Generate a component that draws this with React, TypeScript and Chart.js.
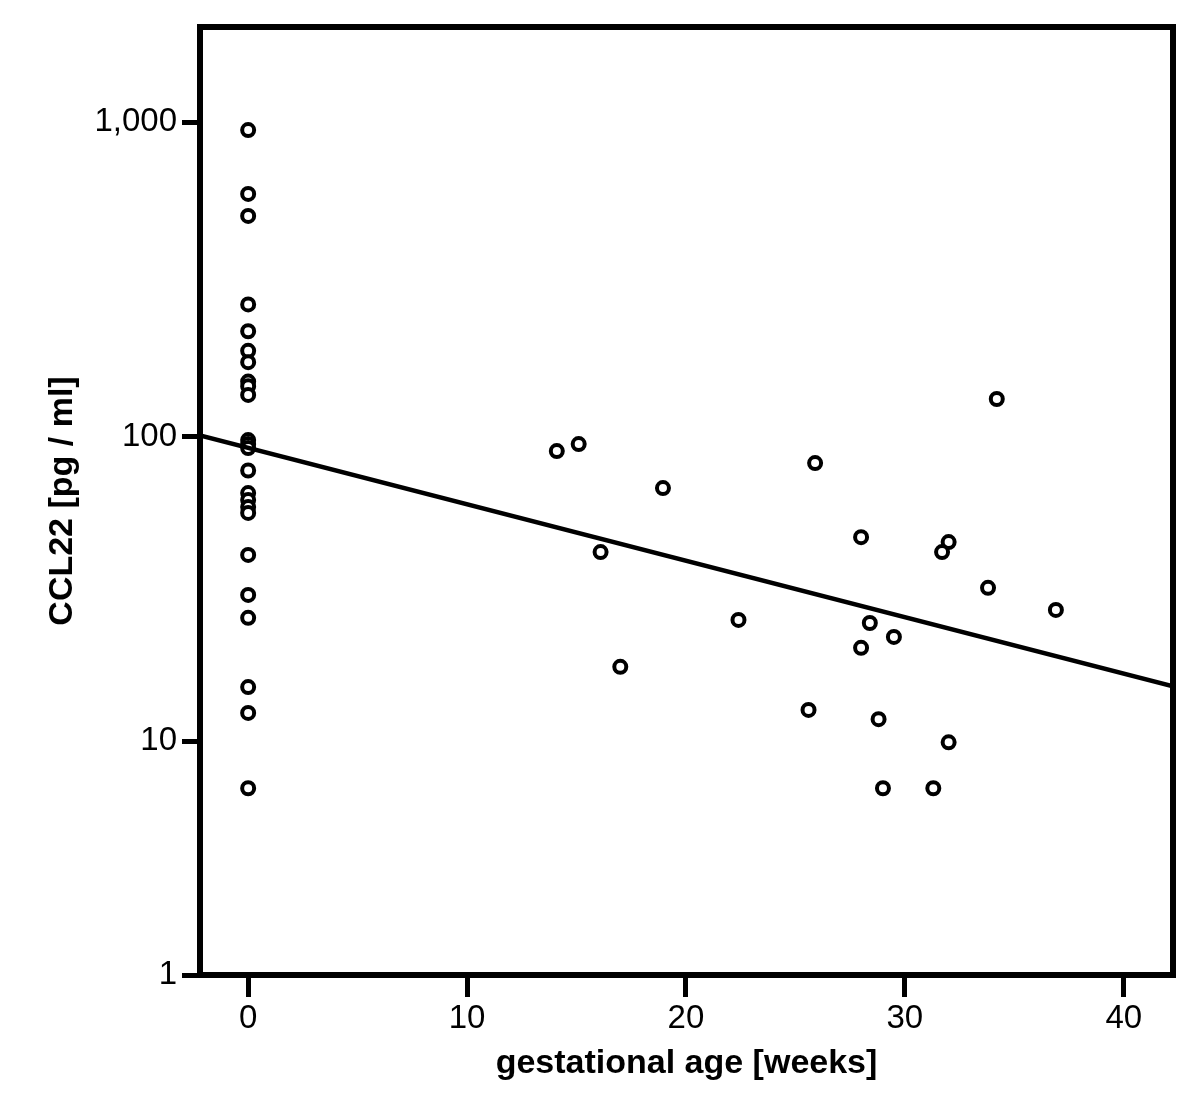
import React, { useEffect, useRef } from "react";
import { Chart, registerables, Scale } from "chart.js";

// ---- data ----
const GEST_WEEKS = [
  0, 0, 0, 0, 0, 0, 0, 0, 0, 0, 0, 0, 0, 0, 0, 0, 0, 0, 0, 0, 0, 0, 0, 0,
  14.1, 15.1, 18.95, 16.1, 22.4, 17.0, 25.9, 34.2, 28.0, 32.0, 31.7, 33.8,
  36.9, 28.4, 29.5, 28.0, 25.6, 28.8, 32.0, 29.0, 31.3,
];
const CCL22 = [
  943, 592, 504, 264, 217, 188, 173, 150, 145, 136, 97.6, 94.8, 92, 78, 66,
  62.7, 59.5, 57, 41.7, 30.9, 26, 15.3, 12.5, 6.8,
  90, 94.8, 68.5, 42.6, 25.6, 17.9, 82.4, 132, 47.6, 45.9, 42.6, 32.6,
  27.6, 25, 22.5, 20.7, 12.8, 11.9, 9.9, 6.8, 6.8,
];
const FIT_X = [-2.2, 42.25];
const FIT_Y = [101, 15.4];

const X_TICKS = [0, 10, 20, 30, 40];
const Y_TICKS = [1, 10, 100, 1000];
const X_MIN = -2.2;
const X_MAX = 42.25;
const Y_MIN = 1;
const Y_MAX = 2000;

const X_TITLE = "gestational age [weeks]";
const Y_TITLE = "CCL22 [pg / ml]";

// SPSS-style "safe log" scale: position ~ log10(v + 1)
const sl = (v: number) => Math.log10(v + 1);
const slInv = (t: number) => Math.pow(10, t) - 1;

class SafeLogScale extends Scale {
  static id = "safelog";
  static defaults = {};
  _start = 0;
  _range = 1;
  determineDataLimits() {
    const { min, max } = (this as any).getMinMax(true);
    const o: any = this.options;
    (this as any).min = o.min ?? min;
    (this as any).max = o.max ?? max;
  }
  buildTicks() {
    return Y_TICKS.map((v) => ({ value: v }));
  }
  getLabelForValue(v: number) {
    return Number(v).toLocaleString("en-US");
  }
  configure() {
    super.configure();
    this._start = sl((this as any).min);
    this._range = sl((this as any).max) - sl((this as any).min);
  }
  getPixelForValue(v: number) {
    return this.getPixelForDecimal((sl(v) - this._start) / this._range);
  }
  getValueForPixel(p: number) {
    return slInv(this._start + this.getDecimalForPixel(p) * this._range);
  }
}

Chart.register(...registerables, SafeLogScale as any);

const FONT = "'Liberation Sans', Arial, Helvetica, sans-serif";

const framePlugin = {
  id: "frame",
  afterDraw(chart: any) {
    const { ctx, chartArea } = chart;
    ctx.save();
    ctx.strokeStyle = "#000";
    ctx.lineWidth = 6;
    ctx.strokeRect(
      chartArea.left,
      chartArea.top,
      chartArea.right - chartArea.left,
      chartArea.bottom - chartArea.top
    );
    ctx.restore();
  },
};

export default function App() {
  const ref = useRef<HTMLCanvasElement | null>(null);

  useEffect(() => {
    document.body.style.margin = "0";
    if (!ref.current) return;
    const points = GEST_WEEKS.map((x, i) => ({ x, y: CCL22[i] }));
    const fit = FIT_X.map((x, i) => ({ x, y: FIT_Y[i] }));
    const chart = new Chart(ref.current, {
      type: "scatter",
      data: {
        datasets: [
          {
            type: "line",
            data: fit,
            borderColor: "#000",
            borderWidth: 4.5,
            pointRadius: 0,
            fill: false,
          } as any,
          {
            data: points,
            pointStyle: "circle",
            radius: 6,
            pointRadius: 6,
            borderWidth: 4,
            pointBorderWidth: 4,
            borderColor: "#000",
            backgroundColor: "#fff",
            pointBackgroundColor: "#fff",
            pointBorderColor: "#000",
          } as any,
        ],
      },
      options: {
        animation: false,
        responsive: false,
        events: [],
        layout: { padding: { top: 27, right: 27, left: 0, bottom: 0 } },
        plugins: {
          legend: { display: false },
          tooltip: { enabled: false },
        },
        scales: {
          x: {
            type: "linear",
            min: X_MIN,
            max: X_MAX,
            afterBuildTicks: (s: any) => {
              s.ticks = X_TICKS.map((v) => ({ value: v }));
            },
            afterFit: (s: any) => {
              s.height = 136;
            },
            border: { display: false },
            grid: {
              display: true,
              drawOnChartArea: false,
              drawTicks: true,
              tickLength: 22,
              tickWidth: 5,
              tickColor: "#000",
            },
            ticks: {
              color: "#000",
              font: { family: FONT, size: 33 },
              padding: 2,
              maxRotation: 0,
            },
            title: {
              display: true,
              text: X_TITLE,
              color: "#000",
              font: { family: FONT, size: 34, weight: "bold" },
              padding: { top: 0, bottom: 27 },
            },
          },
          y: {
            type: "safelog" as any,
            min: Y_MIN,
            max: Y_MAX,
            afterFit: (s: any) => {
              s.width = 200;
            },
            border: { display: false },
            grid: {
              display: true,
              drawOnChartArea: false,
              drawTicks: true,
              tickLength: 18,
              tickWidth: 5,
              tickColor: "#000",
            },
            ticks: {
              color: "#000",
              font: { family: FONT, size: 33 },
              padding: 5,
              callback: (v: any) => Number(v).toLocaleString("en-US"),
            },
            title: {
              display: true,
              text: Y_TITLE,
              color: "#000",
              font: { family: FONT, size: 34, weight: "bold" },
              padding: { top: 42, bottom: 0 },
            },
          } as any,
        },
      },
      plugins: [framePlugin],
    });
    return () => chart.destroy();
  }, []);

  return (
    <div style={{ width: 1200, height: 1111, background: "#fff" }}>
      <canvas ref={ref} width={1200} height={1111} />
    </div>
  );
}
